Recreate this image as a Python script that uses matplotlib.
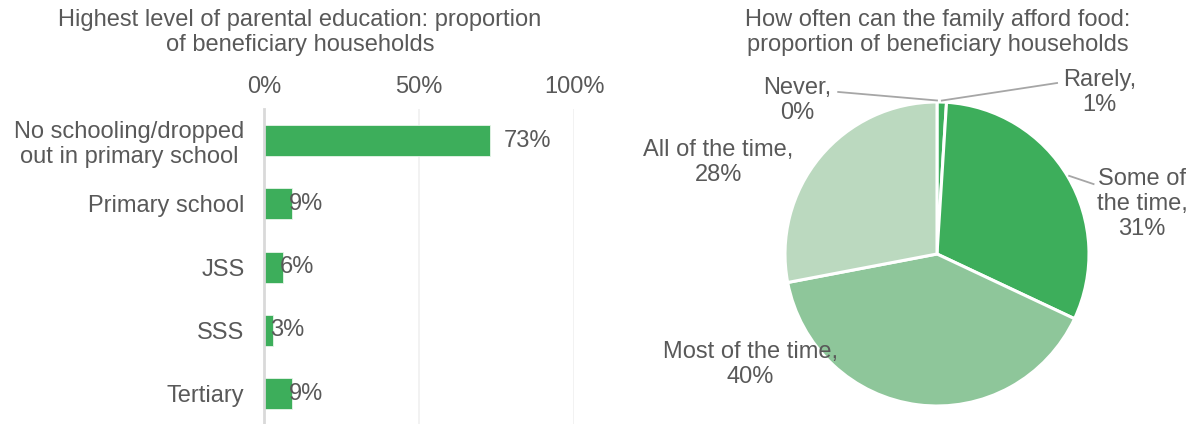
import matplotlib
matplotlib.use("Agg")
import matplotlib.pyplot as plt
import numpy as np

plt.rcParams['font.family'] = ['Liberation Sans', 'DejaVu Sans']

# 数据
edu_levels = ["No schooling/dropped\nout in primary school", "Primary school", "JSS", "SSS", "Tertiary"]
edu_share = [73, 9, 6, 3, 9]
edu_ticks = [0, 50, 100]

food_labels = ["Never", "Rarely", "Some of\nthe time", "Most of the time", "All of the time"]
food_share = [0, 1, 31, 40, 28]

# 样式
TEXT = '#595959'
GREEN = '#3dae5b'
MID = '#8ec69a'
LIGHT = '#bbd9bf'
FS = 17
LS = 1.18

fig = plt.figure(figsize=(11.99, 4.24), dpi=100)

# 左图：条形图
ax = fig.add_axes([264 / 1199, 0.0, 310 / 1199, 1 - 109 / 424])
y = np.arange(len(edu_levels))
ax.barh(y, edu_share, height=0.49, color=GREEN, edgecolor='#e8f4ea', linewidth=0.6, zorder=3)
ax.set_xlim(0, 100)
ax.set_ylim(4.48, -0.5)
ax.xaxis.tick_top()
ax.set_xticks(edu_ticks)
ax.set_xticklabels([f"{t}%" for t in edu_ticks], fontsize=FS, color=TEXT)
ax.set_yticks(y)
ax.set_yticklabels(edu_levels, fontsize=FS, color=TEXT)
for lbl in ax.get_yticklabels():
    lbl.set_multialignment('center')
    lbl.set_linespacing(1.15)
ax.tick_params(axis='x', length=0, pad=8)
ax.tick_params(axis='y', length=0, pad=14)
ax.grid(axis='x', color='#f0f0f0', linewidth=1.2, zorder=0)
for s in ['top', 'right', 'bottom']:
    ax.spines[s].set_visible(False)
ax.spines['left'].set_color('#d9d9d9')
ax.spines['left'].set_linewidth(2)
ax.spines['left'].set_zorder(4)
for yi, v in zip(y, edu_share):
    ax.annotate(f"{v}%", (v, yi), xytext=(9.5 if v > 20 else -2, 0), textcoords='offset points',
                ha='left', va='center', fontsize=FS, color=TEXT, zorder=5)

fig.text(300 / 1199, 1 - 9 / 424, "Highest level of parental education: proportion\nof beneficiary households",
         ha='center', va='top', fontsize=FS, color=TEXT, linespacing=LS)

# 右图：饼图
pax = fig.add_axes([(937 - 152) / 1199, 18 / 424, 304 / 1199, 304 / 424])
colors = [GREEN, GREEN, GREEN, MID, LIGHT]
wedges, _ = pax.pie(food_share, colors=colors, startangle=90, counterclock=False,
                    wedgeprops=dict(edgecolor='white', linewidth=2.2))
pax.set_aspect('equal')
pax.set_xlim(-1, 1)
pax.set_ylim(-1, 1)
pax.axis('off')

# 标签位置（半径单位）
label_pos = [(-0.92, 1.01), (1.07, 1.06), (1.35, 0.33), (-1.23, -0.73), (-1.44, 0.60)]
leader_end = [(-0.65, 1.066), (0.79, 1.125), (1.03, 0.46), None, None]
for w, name, v, pos, end in zip(wedges, food_labels, food_share, label_pos, leader_end):
    pax.text(pos[0], pos[1], f"{name},\n{v}%", ha='center', va='center', fontsize=FS,
             color=TEXT, linespacing=LS, multialignment='center')
    if end is not None:
        mid = np.deg2rad((w.theta1 + w.theta2) / 2)
        sx, sy = 1.01 * np.cos(mid), 1.01 * np.sin(mid)
        pax.plot([sx, end[0]], [sy, end[1]], color='#a6a6a6', linewidth=1.3, clip_on=False)

fig.text(938 / 1199, 1 - 9 / 424, "How often can the family afford food:\nproportion of beneficiary households",
         ha='center', va='top', fontsize=FS, color=TEXT, linespacing=LS)

fig.savefig("out.png", dpi=100)
